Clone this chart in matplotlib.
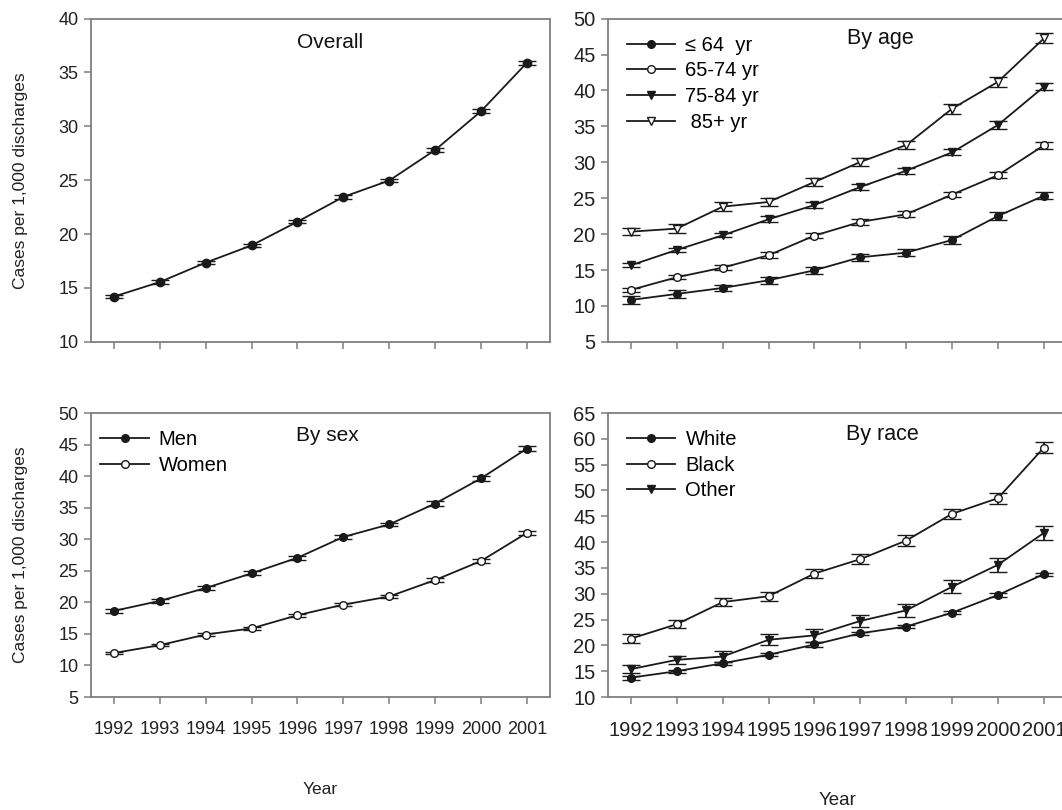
import numpy as np
import matplotlib.pyplot as plt
from matplotlib.lines import Line2D

plt.rcParams['font.family'] = ['Liberation Sans', 'DejaVu Sans']

years = list(range(1992, 2002))

overall = [14.2, 15.55, 17.35, 18.95, 21.15, 23.45, 24.97, 27.8, 31.4, 35.9]
overall_err = [0.15, 0.15, 0.15, 0.15, 0.15, 0.15, 0.15, 0.15, 0.18, 0.2]

age_labels = ['\u2264 64  yr', '65-74 yr', '75-84 yr', ' 85+ yr']
age_le64 = [10.83, 11.67, 12.5, 13.57, 14.96, 16.77, 17.42, 19.18, 22.52, 25.35]
age_le64_err = [0.5, 0.5, 0.4, 0.5, 0.5, 0.5, 0.5, 0.5, 0.5, 0.5]
age_65_74 = [12.23, 13.99, 15.33, 17.05, 19.79, 21.69, 22.76, 25.5, 28.2, 32.35]
age_65_74_err = [0.3, 0.3, 0.3, 0.4, 0.3, 0.4, 0.4, 0.4, 0.4, 0.5]
age_75_84 = [15.66, 17.8, 19.83, 22.06, 24.05, 26.56, 28.83, 31.38, 35.19, 40.5]
age_75_84_err = [0.3, 0.3, 0.3, 0.4, 0.4, 0.4, 0.4, 0.4, 0.5, 0.5]
age_85 = [20.34, 20.76, 23.82, 24.47, 27.26, 30.04, 32.4, 37.46, 41.2, 47.24]
age_85_err = [0.5, 0.6, 0.6, 0.6, 0.6, 0.6, 0.6, 0.7, 0.7, 0.7]

sex_labels = ['Men', 'Women']
men = [18.65, 20.23, 22.27, 24.6, 27.06, 30.36, 32.35, 35.65, 39.64, 44.37]
men_err = [0.3, 0.3, 0.3, 0.3, 0.3, 0.3, 0.3, 0.4, 0.4, 0.4]
women = [11.97, 13.22, 14.9, 15.87, 17.96, 19.63, 20.93, 23.53, 26.55, 31.0]
women_err = [0.2, 0.2, 0.2, 0.25, 0.25, 0.25, 0.25, 0.3, 0.3, 0.3]

race_labels = ['White', 'Black', 'Other']
white = [13.75, 15.0, 16.53, 18.18, 20.17, 22.34, 23.65, 26.33, 29.75, 33.8]
white_err = [0.4, 0.3, 0.3, 0.3, 0.4, 0.3, 0.3, 0.3, 0.3, 0.3]
black = [21.31, 24.1, 28.38, 29.52, 33.91, 36.7, 40.3, 45.48, 48.5, 58.3]
black_err = [0.8, 0.8, 0.8, 0.9, 0.9, 0.9, 1.0, 1.0, 1.1, 1.1]
other = [15.4, 17.2, 17.84, 21.08, 21.94, 24.73, 26.78, 31.35, 35.6, 41.78]
other_err = [0.8, 0.8, 1.0, 1.1, 1.2, 1.1, 1.2, 1.3, 1.4, 1.4]

line_col = '#1a1a1a'
spine_col = '#7f7f7f'
text_col = '#222222'

fig = plt.figure(figsize=(10.62, 8.1), dpi=100)
ax1 = fig.add_axes([0.0857, 0.578, 0.432, 0.399])
ax2 = fig.add_axes([0.5725, 0.578, 0.432, 0.399])
ax3 = fig.add_axes([0.0857, 0.1395, 0.432, 0.3506])
ax4 = fig.add_axes([0.5725, 0.1395, 0.432, 0.3506])


def series(ax, y, err, marker, filled, ms=5.5):
    ax.errorbar(years, y, yerr=err, color=line_col, lw=1.3, marker=marker,
                ms=ms, mfc=line_col if filled else 'white', mec=line_col,
                mew=1.0, capsize=6.5, capthick=1.3, elinewidth=1.3)
    return Line2D([], [], color=line_col, lw=1.3, marker=marker, ms=5.5,
                  mfc=line_col if filled else 'white', mec=line_col, mew=1.0)


def style(ax, ylo, yhi, fs, show_x):
    ax.set_xlim(1991.5, 2001.5)
    ax.set_ylim(ylo, yhi)
    ax.set_yticks(np.arange(ylo, yhi + 1, 5))
    ax.set_xticks(years)
    for s in ax.spines.values():
        s.set_color(spine_col)
        s.set_linewidth(1.3)
    ax.tick_params(direction='out', length=5, width=1.1, color=spine_col,
                   labelsize=fs, labelcolor=text_col, pad=4)
    if show_x:
        ax.set_xticklabels([str(y) for y in years])
        ax.tick_params(axis='x', pad=12)
    else:
        ax.set_xticklabels([])


def add_legend(ax, handles, labels, anchor):
    ax.legend(handles, labels, loc='upper left', bbox_to_anchor=anchor,
              frameon=False, fontsize=14.5, handlelength=2.4,
              handletextpad=0.5, labelspacing=0.33, borderaxespad=0,
              borderpad=0.4)


series(ax1, overall, overall_err, 'o', True, ms=6)
style(ax1, 10, 40, 13, False)
ax1.text(0.52, 0.925, 'Overall', transform=ax1.transAxes, ha='center',
         va='center', fontsize=15, color='#111111')
ax1.set_ylabel('Cases per 1,000 discharges', fontsize=12.5, labelpad=22,
               color=text_col)

h = [series(ax2, age_le64, age_le64_err, 'o', True),
     series(ax2, age_65_74, age_65_74_err, 'o', False),
     series(ax2, age_75_84, age_75_84_err, 'v', True),
     series(ax2, age_85, age_85_err, 'v', False)]
style(ax2, 5, 50, 14.5, False)
add_legend(ax2, h, age_labels, (0.024, 0.972))
ax2.text(0.593, 0.94, 'By age', transform=ax2.transAxes, ha='center',
         va='center', fontsize=15.5, color='#111111')

h = [series(ax3, men, men_err, 'o', True),
     series(ax3, women, women_err, 'o', False)]
style(ax3, 5, 50, 13, True)
add_legend(ax3, h, sex_labels, (0.003, 0.968))
ax3.text(0.516, 0.92, 'By sex', transform=ax3.transAxes, ha='center',
         va='center', fontsize=15, color='#111111')
ax3.set_ylabel('Cases per 1,000 discharges', fontsize=12.5, labelpad=22,
               color=text_col)
ax3.set_xlabel('Year', fontsize=12.5, labelpad=32, color=text_col)

h = [series(ax4, white, white_err, 'o', True),
     series(ax4, black, black_err, 'o', False),
     series(ax4, other, other_err, 'v', True)]
style(ax4, 10, 65, 14.5, True)
add_legend(ax4, h, race_labels, (0.024, 0.968))
ax4.text(0.597, 0.923, 'By race', transform=ax4.transAxes, ha='center',
         va='center', fontsize=15.5, color='#111111')
ax4.set_xlabel('Year', fontsize=13.5, labelpad=38, color=text_col)

fig.savefig('out.png', dpi=100)
